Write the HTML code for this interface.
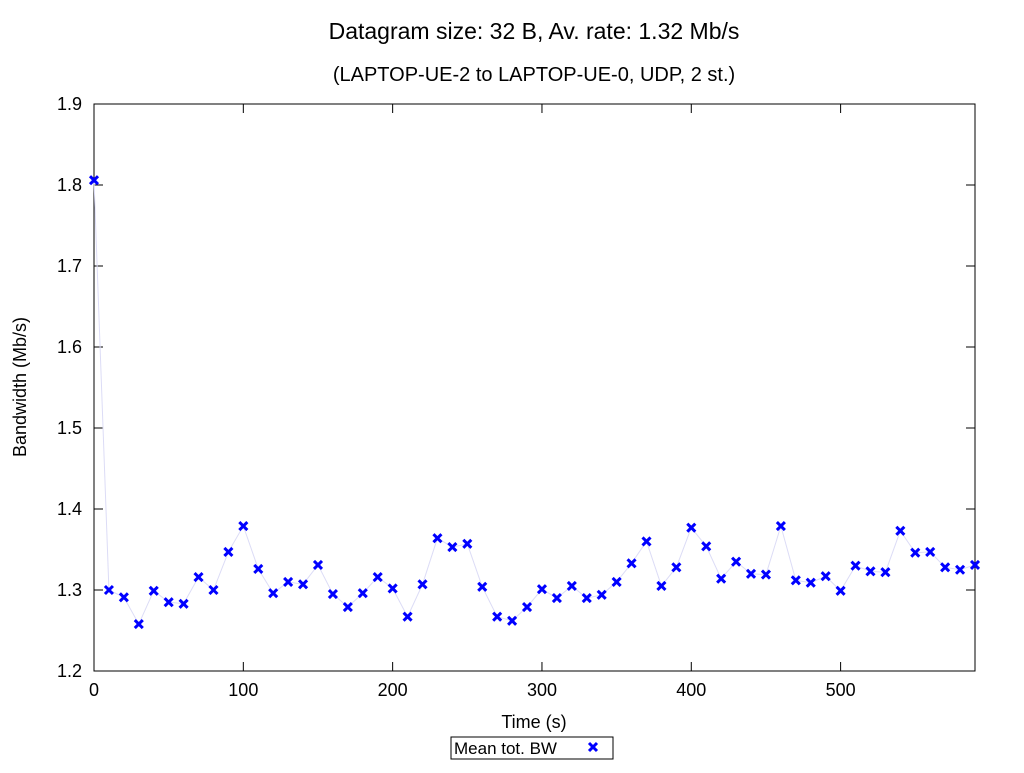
<!DOCTYPE html>
<html><head><meta charset="utf-8"><style>
body{margin:0;background:#fff;}
svg text{font-family:"Liberation Sans",sans-serif;fill:#000;}
</style></head><body>
<svg id="chart" width="1024" height="768" xmlns="http://www.w3.org/2000/svg">
<rect width="1024" height="768" fill="#fff"/>
<text x="534" y="39" font-size="23" text-anchor="middle">Datagram size: 32 B, Av. rate: 1.32 Mb/s</text>
<text x="534" y="81" font-size="20" text-anchor="middle">(LAPTOP-UE-2 to LAPTOP-UE-0, UDP, 2 st.)</text>
<g id="axes"></g>
<g id="series"></g>
<text transform="translate(26,387) rotate(-90)" font-size="18" text-anchor="middle">Bandwidth (Mb/s)</text>
<text x="534" y="728" font-size="18" text-anchor="middle">Time (s)</text>
<g>
<rect x="451" y="737" width="162" height="22" fill="#fff" stroke="#000" stroke-width="1"/>
<text x="454" y="754" font-size="17">Mean tot. BW</text>
<path d="M589,743 l8,8 M597,743 l-8,8" stroke="#0000ff" stroke-width="3"/>
</g>
</svg>
<script>
const times = [0,10,20,30,40,50,60,70,80,90,100,110,120,130,140,150,160,170,180,190,200,210,220,230,240,250,260,270,280,290,300,310,320,330,340,350,360,370,380,390,400,410,420,430,440,450,460,470,480,490,500,510,520,530,540,550,560,570,580,590];
const bandwidth = [1.806,1.300,1.291,1.258,1.299,1.285,1.283,1.316,1.300,1.347,1.379,1.326,1.296,1.310,1.307,1.331,1.295,1.279,1.296,1.316,1.302,1.267,1.307,1.364,1.353,1.357,1.304,1.267,1.262,1.279,1.301,1.290,1.305,1.290,1.294,1.310,1.333,1.360,1.305,1.328,1.377,1.354,1.314,1.335,1.320,1.319,1.379,1.312,1.309,1.317,1.299,1.330,1.323,1.322,1.373,1.346,1.347,1.328,1.325,1.331];
const xTicks = [0,100,200,300,400,500];
const yTicks = [1.2,1.3,1.4,1.5,1.6,1.7,1.8,1.9];
const X0=94,X1=975,Y0=671,Y1=104,XMIN=0,XMAX=590,YMIN=1.2,YMAX=1.9;
const xs=v=>X0+(v-XMIN)/(XMAX-XMIN)*(X1-X0);
const ys=v=>Y0-(v-YMIN)/(YMAX-YMIN)*(Y0-Y1);
const NS="http://www.w3.org/2000/svg";
const axes=document.getElementById('axes'),series=document.getElementById('series');
function mk(tag,attrs,parent){const e=document.createElementNS(NS,tag);for(const k in attrs)e.setAttribute(k,attrs[k]);parent.appendChild(e);return e;}
const frame=mk('rect',{x:X0,y:Y1,width:X1-X0,height:Y0-Y1,fill:'none',stroke:'#000','stroke-width':1},axes);


xTicks.forEach(t=>{const x=xs(t);
 const tk=mk('path',{d:`M${x},${Y0}v-9M${x},${Y1}v9`,stroke:'#000'},axes);
 
 
 const l=mk('text',{x:x,y:Y0+25,'font-size':18,'text-anchor':'middle'},axes);l.textContent=t;
 
 
});
yTicks.forEach(t=>{const y=ys(t);
 const tk=mk('path',{d:`M${X0},${y}h9M${X1},${y}h-9`,stroke:'#000'},axes);
 
 
 const l=mk('text',{x:X0-12,y:y+6,'font-size':18,'text-anchor':'end'},axes);l.textContent=t.toFixed(1);
 
 
});
const line=mk('polyline',{points:times.map((t,i)=>xs(t)+','+ys(bandwidth[i])).join(' '),fill:'none',stroke:'#dcdcf6','stroke-width':1},series);


times.forEach((t,i)=>{const x=xs(t),y=ys(bandwidth[i]);
 const m=mk('path',{d:`M${x-4},${y-4}l8,8M${x+4},${y-4}l-8,8`,stroke:'#0000ff','stroke-width':3},series);
 
 
});
</script>
</body></html>
